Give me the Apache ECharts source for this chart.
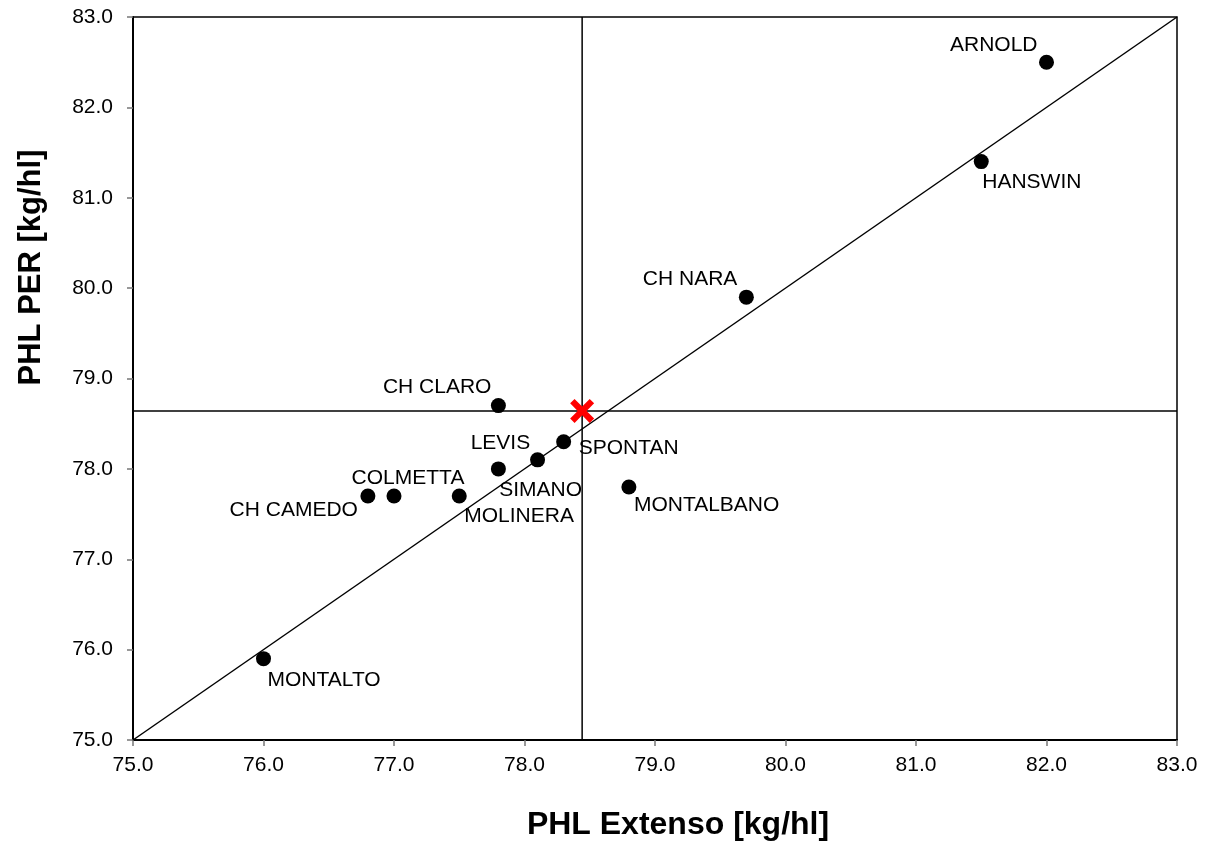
<!DOCTYPE html>
<html>
<head>
<meta charset="utf-8">
<title>PHL Extenso vs PHL PER</title>
<script src="https://cdn.jsdelivr.net/npm/echarts@6/dist/echarts.min.js"></script>
<style>
  html, body { margin: 0; padding: 0; background: #fff; }
  #chart { width: 1210px; height: 845px; }
</style>
</head>
<body>
<div id="chart"></div>
<script>
// varieties and values
const varieties = ['ARNOLD', 'HANSWIN', 'CH NARA', 'CH CLARO', 'LEVIS', 'SPONTAN', 'SIMANO', 'MOLINERA', 'COLMETTA', 'CH CAMEDO', 'MONTALBANO', 'MONTALTO'];
const phlExtenso = [82.0, 81.5, 79.7, 77.8, 77.8, 78.3, 78.1, 77.5, 77.0, 76.8, 78.8, 76.0];
const phlPer     = [82.5, 81.4, 79.9, 78.7, 78.0, 78.3, 78.1, 77.7, 77.7, 77.7, 77.8, 75.9];
const axisMin = 75;
const axisMax = 83;

// label placement per variety: [align, dx, dy]
const labelPlace = {
  'ARNOLD': ['right', -9, -17],
  'HANSWIN': ['left', 1, 21],
  'CH NARA': ['right', -9, -18],
  'CH CLARO': ['right', -7, -18],
  'LEVIS': ['center', 2, -26],
  'SPONTAN': ['left', 15, 6],
  'SIMANO': ['center', 3, 30],
  'MOLINERA': ['left', 5, 20],
  'COLMETTA': ['center', 14, -18],
  'CH CAMEDO': ['right', -10, 14],
  'MONTALBANO': ['left', 5, 18],
  'MONTALTO': ['left', 4, 22]
};

const meanX = phlExtenso.reduce((a, b) => a + b, 0) / phlExtenso.length;
const meanY = phlPer.reduce((a, b) => a + b, 0) / phlPer.length;

const points = varieties.map((name, i) => {
  const p = labelPlace[name];
  return {
    name: name,
    value: [phlExtenso[i], phlPer[i]],
    label: { align: p[0], offset: [p[1], p[2]] }
  };
});

const chart = echarts.init(document.getElementById('chart'));

const font = 'Liberation Sans, Arial, sans-serif';

const axisCommon = {
  type: 'value',
  min: axisMin,
  max: axisMax,
  interval: 1,
  nameLocation: 'middle',
  axisLine: { show: true, lineStyle: { color: '#000', width: 2 } },
  axisTick: { show: true, inside: false, length: 6, lineStyle: { color: '#777', width: 1.5 } },
  axisLabel: {
    fontFamily: font, fontSize: 21, color: '#000',
    formatter: v => v.toFixed(1)
  },
  splitLine: { show: false }
};

const crossPath = 'path://M0,3.7 L3.7,0 L10,6.3 L16.3,0 L20,3.7 L13.7,10 L20,16.3 L16.3,20 L10,13.7 L3.7,20 L0,16.3 L6.3,10 Z';

chart.setOption({
  animation: false,
  backgroundColor: '#fff',
  grid: {
    left: 133, right: 33, top: 17, bottom: 105,
    outerBoundsMode: 'none',
    show: true, borderColor: '#000', borderWidth: 1.5
  },
  xAxis: Object.assign({}, axisCommon, {
    name: 'PHL Extenso [kg/hl]',
    nameGap: 69,
    // title sits a bit right of centre in the original
    nameTextStyle: { fontFamily: font, fontSize: 32, fontWeight: 'bold', color: '#000', padding: [0, 0, 0, 46] },
    axisLabel: Object.assign({}, axisCommon.axisLabel, { margin: 15 })
  }),
  yAxis: Object.assign({}, axisCommon, {
    name: 'PHL PER [kg/hl]',
    nameGap: 86,
    nameRotate: 90,
    // title sits well above centre in the original
    nameTextStyle: { fontFamily: font, fontSize: 31, fontWeight: 'bold', color: '#000', padding: [0, 0, 0, 222] },
    axisLabel: Object.assign({}, axisCommon.axisLabel, { margin: 20 })
  }),
  series: [
    {
      // 1:1 line
      type: 'line',
      data: [[axisMin, axisMin], [axisMax, axisMax]],
      symbol: 'none',
      lineStyle: { color: '#000', width: 1.5 },
      silent: true,
      z: 2
    },
    {
      // mean of x
      type: 'line',
      data: [[meanX, axisMin], [meanX, axisMax]],
      symbol: 'none',
      lineStyle: { color: '#000', width: 1.5 },
      silent: true,
      z: 2
    },
    {
      // mean of y
      type: 'line',
      data: [[axisMin, meanY], [axisMax, meanY]],
      symbol: 'none',
      lineStyle: { color: '#000', width: 1.5 },
      silent: true,
      z: 2
    },
    {
      type: 'scatter',
      data: points,
      symbol: 'circle',
      symbolSize: 15,
      itemStyle: { color: '#000', opacity: 1 },
      label: {
        show: true,
        position: 'inside',
        verticalAlign: 'middle',
        formatter: '{b}',
        fontFamily: font,
        fontSize: 21,
        color: '#000'
      },
      z: 3
    },
    {
      type: 'scatter',
      data: [[meanX, meanY]],
      symbol: crossPath,
      symbolSize: 24,
      itemStyle: { color: '#ff0000', opacity: 1 },
      z: 4
    }
  ]
});
</script>
</body>
</html>
